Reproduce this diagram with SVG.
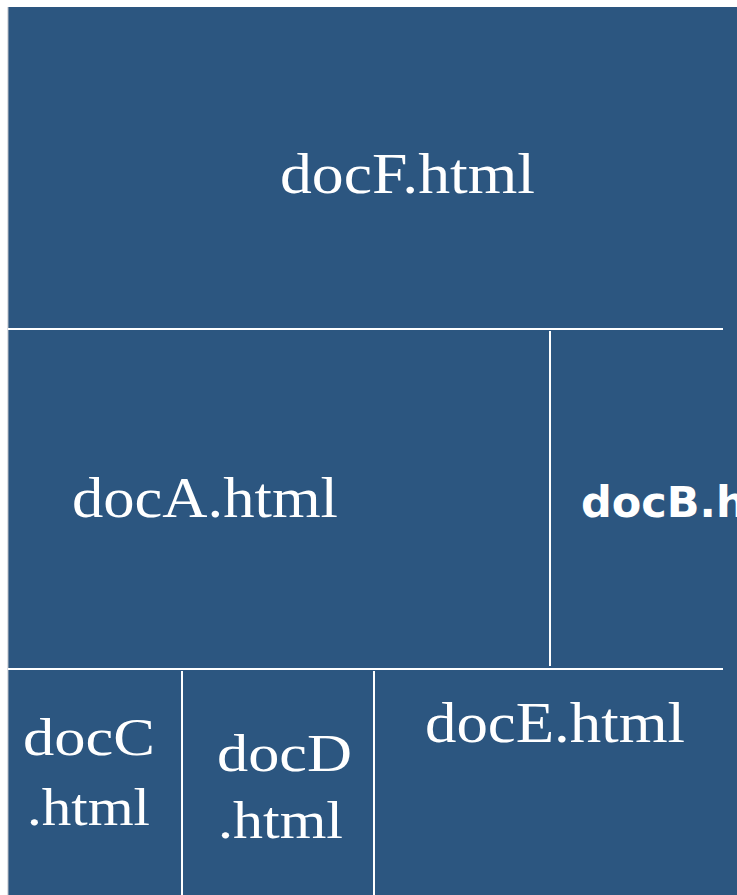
<svg xmlns="http://www.w3.org/2000/svg" width="737" height="895" viewBox="0 0 737 895">
<style>
.bg{fill:#2c5680}
.div{stroke:#ffffff;stroke-width:2;fill:none}
.lbl{fill:#ffffff;font-family:"Liberation Serif","Times New Roman",serif}
.lblB{fill:#ffffff;font-family:"DejaVu Sans","Liberation Sans",sans-serif;font-weight:bold}
</style>
<rect x="0" y="0" width="737" height="895" fill="#ffffff"/>
<rect class="bg" x="8" y="7" width="729" height="888"/>
<line x1="8" y1="7" x2="8" y2="895" stroke="#b8bcc4" stroke-width="1"/>
<g id="docF">
<text class="lbl" x="280" y="193" font-size="56" textLength="255" lengthAdjust="spacingAndGlyphs">docF.html</text>
</g>
<g id="docA">
<text class="lbl" x="72" y="517" font-size="56" textLength="266" lengthAdjust="spacingAndGlyphs">docA.html</text>
</g>
<g id="docB">
<text class="lblB" x="581" y="517" font-size="43">docB.h</text>
</g>
<g id="docC">
<text class="lbl" x="23" y="755" font-size="52" textLength="132" lengthAdjust="spacingAndGlyphs">docC</text>
<text class="lbl" x="27" y="825" font-size="52" textLength="123" lengthAdjust="spacingAndGlyphs">.html</text>
</g>
<g id="docD">
<text class="lbl" x="217" y="771" font-size="52" textLength="135" lengthAdjust="spacingAndGlyphs">docD</text>
<text class="lbl" x="218" y="838" font-size="52" textLength="125" lengthAdjust="spacingAndGlyphs">.html</text>
</g>
<g id="docE">
<text class="lbl" x="425" y="742" font-size="56" textLength="260" lengthAdjust="spacingAndGlyphs">docE.html</text>
</g>
<g id="connectors">
<line class="div" x1="8" y1="329" x2="723" y2="329"/>
<line class="div" x1="550" y1="331" x2="550" y2="666"/>
<line class="div" x1="8" y1="669" x2="723" y2="669"/>
<line class="div" x1="182" y1="671" x2="182" y2="895"/>
<line class="div" x1="374" y1="671" x2="374" y2="895"/>
</g>
</svg>
